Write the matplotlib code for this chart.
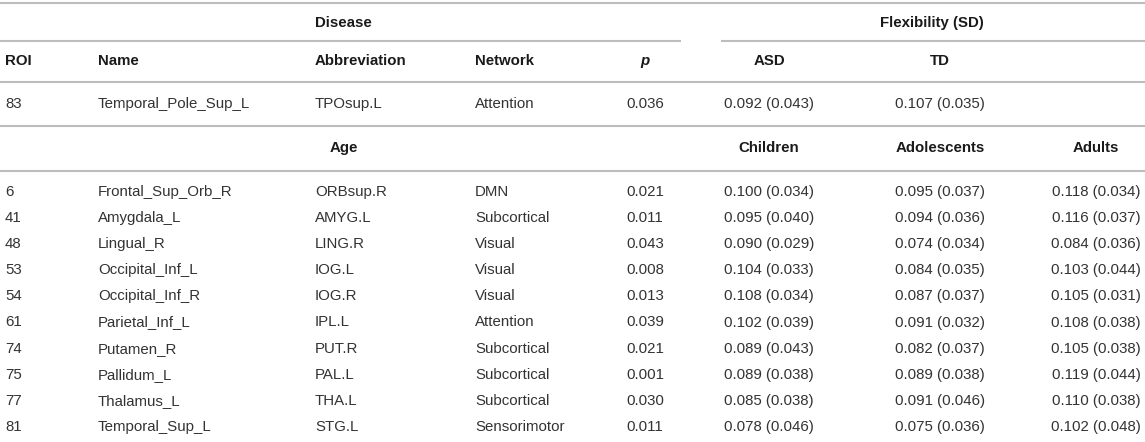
import matplotlib.pyplot as plt

# disease row
dis_roi = 83
dis_name = "Temporal_Pole_Sup_L"
dis_abbr = "TPOsup.L"
dis_net = "Attention"
dis_p = "0.036"
dis_asd = (0.092, 0.043)
dis_td = (0.107, 0.035)

# age rows
roi = [6, 41, 48, 53, 54, 61, 74, 75, 77, 81]
names = ["Frontal_Sup_Orb_R", "Amygdala_L", "Lingual_R", "Occipital_Inf_L", "Occipital_Inf_R",
         "Parietal_Inf_L", "Putamen_R", "Pallidum_L", "Thalamus_L", "Temporal_Sup_L"]
abbrevs = ["ORBsup.R", "AMYG.L", "LING.R", "IOG.L", "IOG.R", "IPL.L", "PUT.R", "PAL.L", "THA.L", "STG.L"]
networks = ["DMN", "Subcortical", "Visual", "Visual", "Visual", "Attention", "Subcortical",
            "Subcortical", "Subcortical", "Sensorimotor"]
pvals = ["0.021", "0.011", "0.043", "0.008", "0.013", "0.039", "0.021", "0.001", "0.030", "0.011"]
children = [(0.100, 0.034), (0.095, 0.040), (0.090, 0.029), (0.104, 0.033), (0.108, 0.034),
            (0.102, 0.039), (0.089, 0.043), (0.089, 0.038), (0.085, 0.038), (0.078, 0.046)]
adolescents = [(0.095, 0.037), (0.094, 0.036), (0.074, 0.034), (0.084, 0.035), (0.087, 0.037),
               (0.091, 0.032), (0.082, 0.037), (0.089, 0.038), (0.091, 0.046), (0.075, 0.036)]
adults = [(0.118, 0.034), (0.116, 0.037), (0.084, 0.036), (0.103, 0.044), (0.105, 0.031),
          (0.108, 0.038), (0.105, 0.038), (0.119, 0.044), (0.110, 0.038), (0.102, 0.048)]

plt.rcParams['font.family'] = ['Liberation Sans', 'DejaVu Sans']
W, H = 1145, 442
fig = plt.figure(figsize=(W / 100, H / 100), dpi=100)
ax = fig.add_axes([0, 0, 1, 1])
ax.set_xlim(0, W)
ax.set_ylim(H, 0)
ax.axis('off')

FS = 10.8
REG = '#333333'
BLD = '#1a1a1a'
LINE = '#bdbdbd'

# column x positions
x_roi, x_name, x_abbr, x_net = 5, 98, 315, 475
x_p, x_c1, x_c2, x_c3 = 645, 769, 940, 1096


def fmt(v):
    return f"{v[0]:.3f} ({v[1]:.3f})"


def txt(x, y, s, ha='left', bold=False, **kw):
    ax.text(x, y, s, ha=ha, va='center', fontsize=FS,
            color=BLD if bold else REG, fontweight='bold' if bold else 'normal', **kw)


# rules
for y in [3, 82, 126, 171]:
    ax.plot([0, W], [y, y], color=LINE, lw=1.5, solid_capstyle='butt')
ax.plot([0, 681], [41, 41], color=LINE, lw=1.5, solid_capstyle='butt')
ax.plot([721, W], [41, 41], color=LINE, lw=1.5, solid_capstyle='butt')

# top headers
txt(x_abbr, 23, "Disease", bold=True)
txt(932, 23, "Flexibility (SD)", ha='center', bold=True)

y = 61
txt(x_roi, y, "ROI", bold=True)
txt(x_name, y, "Name", bold=True)
txt(x_abbr, y, "Abbreviation", bold=True)
txt(x_net, y, "Network", bold=True)
txt(x_p, y, "p", ha='center', bold=True, style='italic')
txt(x_c1, y, "ASD", ha='center', bold=True)
txt(x_c2, y, "TD", ha='center', bold=True)

y = 104
txt(x_roi, y, str(dis_roi))
txt(x_name, y, dis_name)
txt(x_abbr, y, dis_abbr)
txt(x_net, y, dis_net)
txt(x_p, y, dis_p, ha='center')
txt(x_c1, y, fmt(dis_asd), ha='center')
txt(x_c2, y, fmt(dis_td), ha='center')

y = 148
txt(330, y, "Age", bold=True)
txt(x_c1, y, "Children", ha='center', bold=True)
txt(x_c2, y, "Adolescents", ha='center', bold=True)
txt(x_c3, y, "Adults", ha='center', bold=True)

for i in range(len(roi)):
    y = 192 + 26.1 * i
    txt(x_roi, y, str(roi[i]))
    txt(x_name, y, names[i])
    txt(x_abbr, y, abbrevs[i])
    txt(x_net, y, networks[i])
    txt(x_p, y, pvals[i], ha='center')
    txt(x_c1, y, fmt(children[i]), ha='center')
    txt(x_c2, y, fmt(adolescents[i]), ha='center')
    txt(x_c3, y, fmt(adults[i]), ha='center')

fig.savefig('out.png', dpi=100, facecolor='white')
